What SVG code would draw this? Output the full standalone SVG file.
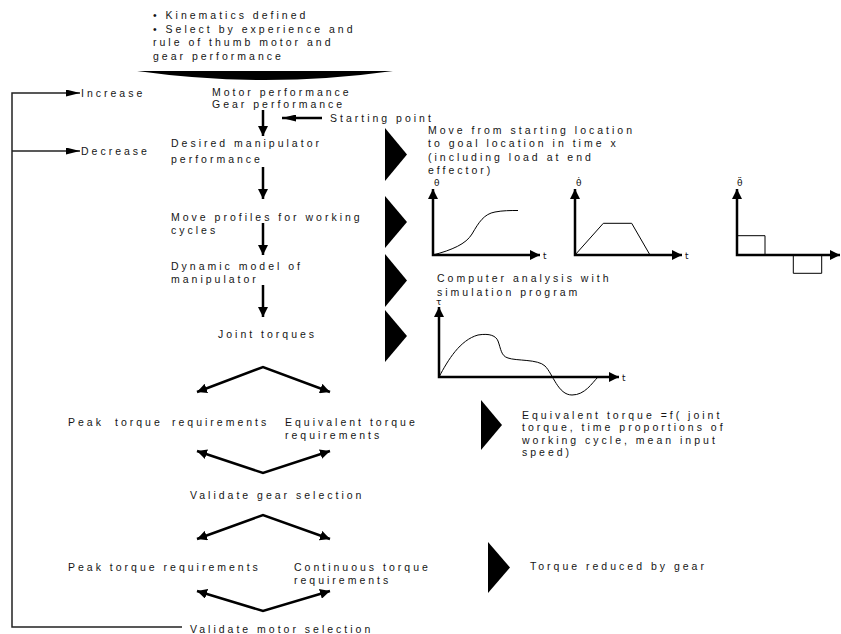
<svg xmlns="http://www.w3.org/2000/svg" width="841" height="634" viewBox="0 0 841 634">
  <defs>
    <style>
      .t { font-family: "Liberation Sans", Arial, sans-serif; font-size: 10.5px; letter-spacing: 3px; fill: #151515; }
      .lbl { font-family: "DejaVu Sans", "Liberation Sans", sans-serif; font-size: 9px; fill: #111; }
      .flow { fill: none; stroke: #000; stroke-width: 2.5; }
      .axis { fill: none; stroke: #000; stroke-width: 2.5; }
      .curve { fill: none; stroke: #000; stroke-width: 1; }
      .loop { fill: none; stroke: #222; stroke-width: 1.5; }
      .tri { fill: #000; }
    </style>
    <marker id="ah" viewBox="0 0 10 10" refX="10" refY="5" markerWidth="10" markerHeight="10" markerUnits="userSpaceOnUse" orient="auto-start-reverse">
      <path d="M0,0 L10,5 L0,10 Z" fill="#000"/>
    </marker>
    <marker id="ahs" viewBox="0 0 14 7" refX="14" refY="3.5" markerWidth="14" markerHeight="7" markerUnits="userSpaceOnUse" orient="auto-start-reverse">
      <path d="M0,0 L14,3.5 L0,7 Z" fill="#000"/>
    </marker>
  </defs>

  <!-- assumptions feeding the first estimate -->
  <g id="assumptions">
    <text class="t" x="153" y="19">• Kinematics defined</text>
    <text class="t" x="153" y="32.6">• Select by experience and</text>
    <text class="t" x="153" y="46">rule of thumb motor and</text>
    <text class="t" x="153" y="60">gear performance</text>
    <path d="M137,71 L393,71 Q265,89 137,71 Z" fill="#000"/>
  </g>

  <g id="increase"><text class="t" x="81" y="96.5">Increase</text></g>
  <g id="decrease"><text class="t" x="81" y="154.5">Decrease</text></g>

  <g id="motor-gear">
    <text class="t" x="212" y="95.5">Motor performance</text>
    <text class="t" x="212" y="107.5">Gear performance</text>
  </g>
  <g id="starting-point"><text class="t" x="330" y="121.5">Starting point</text></g>

  <g id="desired-performance">
    <text class="t" x="171" y="146.5">Desired manipulator</text>
    <text class="t" x="171" y="162.5">performance</text>
  </g>
  <g id="move-profiles">
    <text class="t" x="171" y="220.5">Move profiles for working</text>
    <text class="t" x="171" y="233.5">cycles</text>
  </g>
  <g id="dynamic-model">
    <text class="t" x="171" y="269.5">Dynamic model of</text>
    <text class="t" x="171" y="282.5">manipulator</text>
  </g>
  <g id="joint-torques"><text class="t" x="218" y="337.5">Joint torques</text></g>

  <!-- side notes with pointer wedges -->
  <g id="note-move">
    <polygon class="tri" points="385,128 407,154.5 385,181"/>
    <text class="t" x="428" y="133.5">Move from starting location</text>
    <text class="t" x="428" y="147">to goal location in time x</text>
    <text class="t" x="428" y="160.5">(including load at end</text>
    <text class="t" x="428" y="174">effector)</text>
  </g>

  <g id="note-profiles">
    <polygon class="tri" points="385,196 407,222 385,248"/>
    <!-- position -->
    <path class="axis" d="M433,189 V255 H540" marker-start="url(#ah)" marker-end="url(#ah)"/>
    <text class="lbl" x="434" y="186">θ</text>
    <text class="lbl" x="543" y="258.5">t</text>
    <path class="curve" d="M433,255 C452,250 466,244 472,234 C479,222 484,214 495,212 C503,210.5 510,210.5 518,210.5"/>
    <!-- velocity -->
    <path class="axis" d="M575,189 V255 H682" marker-start="url(#ah)" marker-end="url(#ah)"/>
    <text class="lbl" x="576" y="186">θ̇</text>
    <text class="lbl" x="685" y="258.5">t</text>
    <path class="curve" d="M575,255 L603.3,223.3 L631.7,223.3 L650,255"/>
    <!-- acceleration -->
    <path class="axis" d="M737,189 V255 H840" marker-start="url(#ah)" marker-end="url(#ah)"/>
    <text class="lbl" x="737" y="186">θ̈</text>
    <path class="curve" d="M737,235.7 H765 V255"/>
    <path class="curve" d="M793.3,255 V273.3 H821.7 V255"/>
  </g>

  <g id="note-dynamic">
    <polygon class="tri" points="385,254 407,280.5 385,307"/>
    <text class="t" x="437" y="281.5">Computer analysis with</text>
    <text class="t" x="437" y="295.5">simulation program</text>
  </g>

  <g id="note-torques">
    <polygon class="tri" points="385,310 407,336 385,362"/>
    <path class="axis" d="M439,307 V377 H619" marker-start="url(#ah)" marker-end="url(#ah)"/>
    <text class="lbl" x="436" y="305">τ</text>
    <text class="lbl" x="622" y="380.5">t</text>
    <path class="curve" d="M439,377 C448,360 460,340 478,335 C490,333 496,336 498,341 C501,349 501,356 508,358 C516,361 538,359 545,366 C553,374 558,395 572,395 C585,395 592,383 598,377"/>
  </g>

  <g id="peak-torque-gear">
    <text class="t" y="425.5"><tspan x="68">Peak</tspan><tspan x="115">torque</tspan><tspan x="172">requirements</tspan></text>
  </g>
  <g id="equivalent-torque">
    <text class="t" x="285" y="425.5">Equivalent torque</text>
    <text class="t" x="285" y="438.5">requirements</text>
  </g>
  <g id="note-equivalent">
    <polygon class="tri" points="481,400 502,425 481,450"/>
    <text class="t" x="522" y="418.5">Equivalent torque =f( joint</text>
    <text class="t" x="522" y="431">torque, time proportions of</text>
    <text class="t" x="522" y="443.5">working cycle, mean input</text>
    <text class="t" x="522" y="456">speed)</text>
  </g>
  <g id="validate-gear"><text class="t" x="190" y="499">Validate gear selection</text></g>

  <g id="peak-torque-motor">
    <text class="t" x="68" y="570.5">Peak torque requirements</text>
  </g>
  <g id="continuous-torque">
    <text class="t" x="294" y="570.5">Continuous torque</text>
    <text class="t" x="294" y="583.5">requirements</text>
  </g>
  <g id="note-gear">
    <polygon class="tri" points="488,542 510,567.5 488,593"/>
    <text class="t" x="530" y="569.5">Torque reduced by gear</text>
  </g>
  <g id="validate-motor"><text class="t" x="190" y="633">Validate motor selection</text></g>

  <g id="connectors">
    <!-- main chain -->
    <line class="flow" x1="263" y1="110" x2="263" y2="136" marker-end="url(#ah)"/>
    <line class="flow" x1="263" y1="167" x2="263" y2="199" marker-end="url(#ah)"/>
    <line class="flow" x1="263" y1="223" x2="263" y2="255" marker-end="url(#ah)"/>
    <line class="flow" x1="263" y1="285" x2="263" y2="317" marker-end="url(#ah)"/>
    <line class="flow" x1="322" y1="118" x2="282" y2="118" marker-end="url(#ahs)"/>
    <!-- gear check split and merge -->
    <polyline class="flow" points="197,392 263,367 330,392" marker-start="url(#ah)" marker-end="url(#ah)"/>
    <polyline class="flow" points="197,451 263,473 330,451" marker-start="url(#ah)" marker-end="url(#ah)"/>
    <!-- motor check split and merge -->
    <polyline class="flow" points="197,539 263,515 330,539" marker-start="url(#ah)" marker-end="url(#ah)"/>
    <polyline class="flow" points="197,591 263,611 330,591" marker-start="url(#ah)" marker-end="url(#ah)"/>
    <!-- feedback loop -->
    <path class="loop" d="M182,627 H12 V93 H80" marker-end="url(#ahs)"/>
    <path class="loop" d="M12,151 H80" marker-end="url(#ahs)"/>
  </g>
</svg>
